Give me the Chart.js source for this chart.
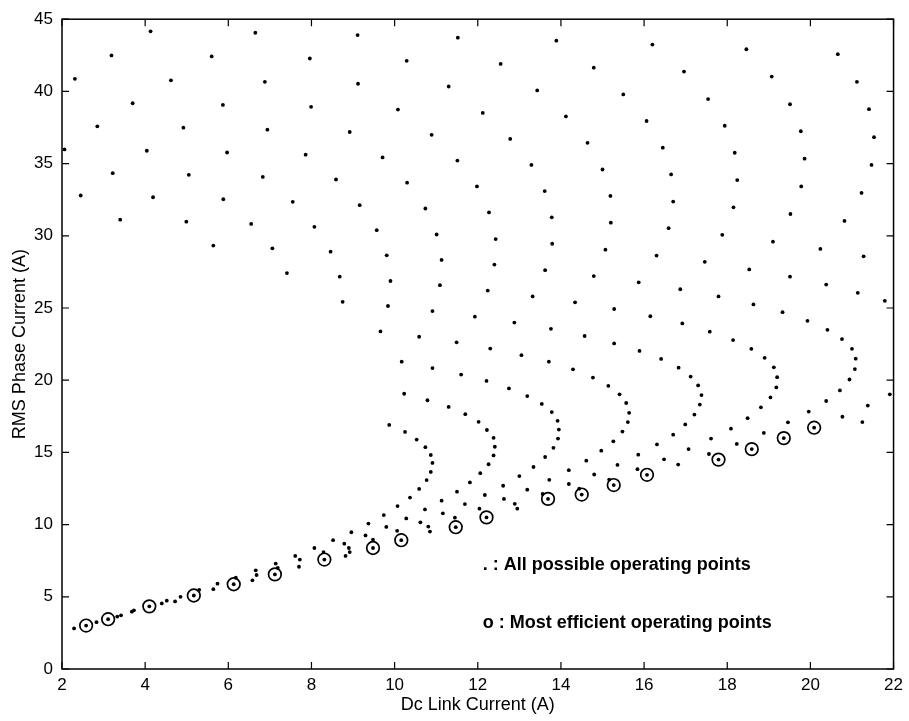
<!DOCTYPE html>
<html lang="en">
<head>
    <meta charset="UTF-8">
    <title>RMS Phase Current vs Dc Link Current</title>
    <script src="https://cdn.jsdelivr.net/npm/chart.js"></script>
    <style>
        body { margin: 0; background: #fff; }
        #wrap { width: 909px; height: 721px; }
    </style>
</head>
<body>
    <div id="wrap"><canvas id="opChart"></canvas></div>

    <script>
        // dots, [Dc link current, RMS phase current]
        const upperLeftPoints = [
            [4.13,44.16],[6.65,44.06],[9.11,43.90],[11.52,43.72],
            [3.19,42.49],[5.60,42.42],[7.96,42.28],[10.29,42.12],
            [2.31,40.87],[4.62,40.77],[6.88,40.66],[9.12,40.53],[11.30,40.34],
            [3.70,39.18],[5.87,39.06],[7.99,38.93],[10.08,38.74],
            [2.85,37.58],[4.92,37.49],[6.94,37.35],[8.92,37.19],[10.89,36.99],
            [2.06,35.98],[4.04,35.89],[5.97,35.77],[7.86,35.62],[9.71,35.43],[11.51,35.21],
            [3.22,34.34],[5.05,34.22],[6.83,34.08],[8.59,33.90],[10.30,33.68],
            [2.45,32.79],[4.19,32.67],[5.88,32.53],[7.55,32.35],[9.16,32.12],[10.74,31.89],
            [3.40,31.12],[4.99,30.98],[6.55,30.82],[8.07,30.62],[9.57,30.39],[11.01,30.09],
            [5.64,29.32],[7.06,29.13],[8.46,28.90],[9.81,28.65],[11.13,28.33],
            [7.41,27.42],[8.68,27.17],[9.90,26.87],[11.09,26.58],
            [8.75,25.43],[9.84,25.14],[10.91,24.79],
            [9.66,23.38],[10.59,23.01],[11.49,22.62],[10.17,21.28]
        ];
        const upperRightPoints = [
            [13.89,43.51],[16.20,43.24],[18.46,42.92],[20.66,42.58],
            [12.55,41.90],[14.79,41.64],[16.96,41.37],[19.07,41.03],[21.12,40.66],
            [13.43,40.07],[15.50,39.79],[17.54,39.47],[19.51,39.11],[21.41,38.77],
            [12.12,38.51],[14.12,38.27],[16.06,37.95],[17.94,37.62],[19.77,37.24],[21.53,36.83],
            [12.78,36.71],[14.64,36.44],[16.45,36.10],[18.18,35.75],[19.86,35.34],[21.47,34.91],
            [13.29,34.91],[15.00,34.59],[16.65,34.25],[18.24,33.86],[19.78,33.42],[21.23,32.97],
            [11.98,33.42],[13.61,33.10],[15.19,32.76],[16.70,32.37],[18.15,31.97],[19.52,31.51],[20.82,31.03],
            [12.27,31.62],[13.78,31.28],[15.20,30.91],[16.59,30.53],[17.88,30.07],[19.10,29.59],[20.24,29.09],[21.28,28.58],
            [12.43,29.77],[13.79,29.45],[15.07,29.04],[16.30,28.63],[17.46,28.20],[18.53,27.67],[19.51,27.17],[20.38,26.62],[21.14,26.05],
            [12.40,28.01],[13.62,27.62],[14.79,27.21],[15.87,26.78],[16.87,26.30],[17.79,25.80],[18.63,25.25],[19.33,24.71],
            [19.93,24.11],[20.41,23.49],[20.76,22.85],[21.00,22.17],[21.09,21.49],[21.79,25.50],
            [12.24,26.21],[13.32,25.80],[14.34,25.39],[15.28,24.93],[16.15,24.43],[16.92,23.93],[17.58,23.36],[18.14,22.78],[18.58,22.17],[18.90,21.55],
            [11.93,24.40],[12.88,23.99],[13.76,23.56],[14.57,23.06],[15.28,22.55],[15.89,22.03],[16.41,21.47],
            [12.30,22.19],[13.05,21.73],[13.71,21.28]
        ];
        const lowChainPoints = [
            [2.29,2.81],[2.58,3.01],[2.83,3.24],[3.11,3.45],[3.33,3.63],[3.42,3.72],[3.68,3.97],[3.73,4.06],
            [4.10,4.34],[4.40,4.54],[4.52,4.73],[4.72,4.68],[4.85,5.00],[5.17,5.09],[5.30,5.48],[5.64,5.53],
            [5.74,5.91],[6.13,5.87],[6.18,6.32],[6.58,6.14],[6.66,6.83],[6.68,6.51],[7.12,6.55],[7.14,7.30],
            [7.19,7.01],[7.61,7.83],[7.72,7.58],[7.70,7.08],[8.31,7.58],[8.29,8.10],[8.07,8.38],[8.52,8.92],
            [8.79,8.68],[8.90,8.38],[8.92,8.10],[8.82,7.83],[8.96,9.47],[9.30,9.25],[9.48,8.95],[9.48,8.38],
            [9.37,10.07],[9.74,10.66],[9.80,9.84],[10.07,11.28],[10.28,10.43],[10.06,9.57],[10.16,8.92],
            [10.37,11.87],[10.73,11.05],[10.62,10.16],[10.81,9.86],[10.85,9.52]
        ];
        const curvePoints = [
            [10.91,20.84],[10.23,19.06],[10.79,18.61],[11.30,18.15],
            [9.87,16.90],[10.25,16.42],[10.53,15.89],[10.74,15.36],[10.87,14.82],[10.91,14.27],[10.87,13.65],
            [10.77,13.08],[10.59,12.47],
            [11.60,20.39],[12.21,19.95],[12.75,19.43],[13.19,18.90],[13.54,18.36],[13.78,17.79],[13.92,17.19],
            [13.95,16.58],[13.93,15.96],[13.82,15.32],[13.62,14.68],[13.34,13.99],[13.00,13.36],[12.61,12.69],
            [12.17,12.05],[11.69,11.42],[11.16,10.78],
            [11.70,17.65],[12.02,17.12],[12.22,16.55],[12.38,16.01],[12.41,15.39],[12.38,14.79],[12.26,14.18],
            [12.06,13.56],[11.81,12.92],[11.50,12.28],[11.13,11.66],
            [13.72,13.10],[13.19,12.42],[12.63,11.78],[12.04,11.10],[11.45,10.48],[11.47,9.82],
            [12.89,11.44],[12.95,11.10],[12.21,10.50],[13.56,12.12],[13.69,11.78],
            [14.29,20.75],[14.77,20.18],[15.14,19.61],[15.41,19.02],[15.57,18.42],[15.64,17.74],[15.61,17.10],
            [15.48,16.44],[15.26,15.77],[14.97,15.12],[14.61,14.43],[14.19,13.77],
            [14.80,13.47],[14.19,12.81],[14.44,12.49],[14.50,12.08],[15.16,13.12],[15.27,12.74],[15.36,14.13],
            [15.86,14.84],[15.84,13.84],[16.07,13.45],
            [16.83,20.87],[17.12,20.25],[17.30,19.64],[17.38,18.97],[17.34,18.31],[17.21,17.62],[16.99,16.94],
            [16.70,16.23],[16.31,15.55],
            [16.48,14.52],[16.82,14.16],[17.07,15.23],[17.61,15.96],[17.56,14.89],[17.79,14.50],[18.09,16.64],
            [19.12,20.89],[19.20,20.21],[19.18,19.50],[19.04,18.81],[18.81,18.12],[18.49,17.37],
            [21.07,20.77],[20.94,20.05],[20.71,19.29],[20.38,18.56],[19.96,17.83],[19.46,17.08],[18.88,16.35],
            [18.23,15.59],[18.59,15.23],[19.36,15.99],[20.09,16.71],
            [20.77,17.47],[21.25,17.10],[21.38,18.24],[21.91,19.02]
        ];
        const efficientPoints = [
            [2.58,3.01],[3.11,3.45],[4.10,4.34],[5.17,5.09],[6.13,5.87],[7.12,6.55],[8.31,7.58],
            [9.48,8.38],[10.16,8.92],[11.47,9.82],[12.21,10.50],[13.69,11.78],[14.50,12.08],
            [15.27,12.74],[16.07,13.45],[17.79,14.50],[18.59,15.23],[19.36,15.99],[20.09,16.71]
        ];

        const xTicks = [2, 4, 6, 8, 10, 12, 14, 16, 18, 20, 22];
        const yTicks = [0, 5, 10, 15, 20, 25, 30, 35, 40, 45];
        const noteLabels = ['. : All possible operating points', 'o : Most efficient operating points'];
        const noteX = 12.12;
        const noteY = [7.19, 3.15];

        const FONT = '"Liberation Sans", Arial, Helvetica, sans-serif';
        const toXY = arr => arr.map(p => ({ x: p[0], y: p[1] }));
        const allPoints = [].concat(upperLeftPoints, upperRightPoints, lowChainPoints, curvePoints);

        // box, inward ticks on all four sides, and the two notes
        const framePlugin = {
            id: 'frame',
            afterDatasetsDraw(chart) {
                const { ctx, chartArea: a, scales: { x, y } } = chart;
                ctx.save();
                ctx.strokeStyle = '#000';
                ctx.lineWidth = 1.5;
                ctx.strokeRect(a.left, a.top, a.right - a.left, a.bottom - a.top);
                ctx.lineWidth = 1.2;
                ctx.beginPath();
                x.ticks.forEach(t => {
                    const px = x.getPixelForValue(t.value);
                    ctx.moveTo(px, a.bottom); ctx.lineTo(px, a.bottom - 7);
                    ctx.moveTo(px, a.top); ctx.lineTo(px, a.top + 7);
                });
                y.ticks.forEach(t => {
                    const py = y.getPixelForValue(t.value);
                    ctx.moveTo(a.left, py); ctx.lineTo(a.left + 7, py);
                    ctx.moveTo(a.right, py); ctx.lineTo(a.right - 7, py);
                });
                ctx.stroke();

                ctx.fillStyle = '#000';
                ctx.font = 'bold 18px ' + FONT;
                ctx.textBaseline = 'middle';
                noteLabels.forEach((txt, i) => {
                    ctx.fillText(txt, x.getPixelForValue(noteX), y.getPixelForValue(noteY[i]));
                });
                ctx.restore();
            }
        };

        new Chart(document.getElementById('opChart'), {
            type: 'scatter',
            data: {
                datasets: [{
                    label: 'Most efficient operating points',
                    data: toXY(efficientPoints),
                    pointStyle: 'circle',
                    pointRadius: 6.3,
                    pointBorderWidth: 1.7,
                    pointBorderColor: '#000',
                    pointBackgroundColor: 'rgba(0,0,0,0)'
                }, {
                    label: 'All possible operating points',
                    data: toXY(allPoints),
                    pointRadius: 1.9,
                    pointBorderWidth: 0,
                    pointBackgroundColor: '#000'
                }]
            },
            options: {
                responsive: true,
                maintainAspectRatio: false,
                animation: false,
                layout: { padding: { left: 0, right: 15, top: 12, bottom: 0 } },
                plugins: { legend: { display: false }, tooltip: { enabled: false } },
                scales: {
                    x: {
                        type: 'linear', min: 2, max: 22,
                        afterBuildTicks: s => { s.ticks = xTicks.map(v => ({ value: v })); },
                        afterFit: s => { s.height = 52; },
                        grid: { display: false, drawTicks: false },
                        border: { display: false },
                        ticks: { color: '#000', padding: 6, maxRotation: 0, autoSkip: false, font: { family: FONT, size: 17 } },
                        title: { display: true, text: 'Dc Link Current (A)', color: '#000', padding: { top: 0, bottom: 5 }, font: { family: FONT, size: 18 } }
                    },
                    y: {
                        type: 'linear', min: 0, max: 45,
                        afterBuildTicks: s => { s.ticks = yTicks.map(v => ({ value: v })); },
                        afterFit: s => { s.width = 62; },
                        grid: { display: false, drawTicks: false },
                        border: { display: false },
                        ticks: { color: '#000', padding: 9, font: { family: FONT, size: 17 } },
                        title: { display: true, text: 'RMS Phase Current (A)', color: '#000', padding: { top: 9, bottom: 0 }, font: { family: FONT, size: 18 } }
                    }
                }
            },
            plugins: [framePlugin]
        });
    </script>
</body>
</html>
